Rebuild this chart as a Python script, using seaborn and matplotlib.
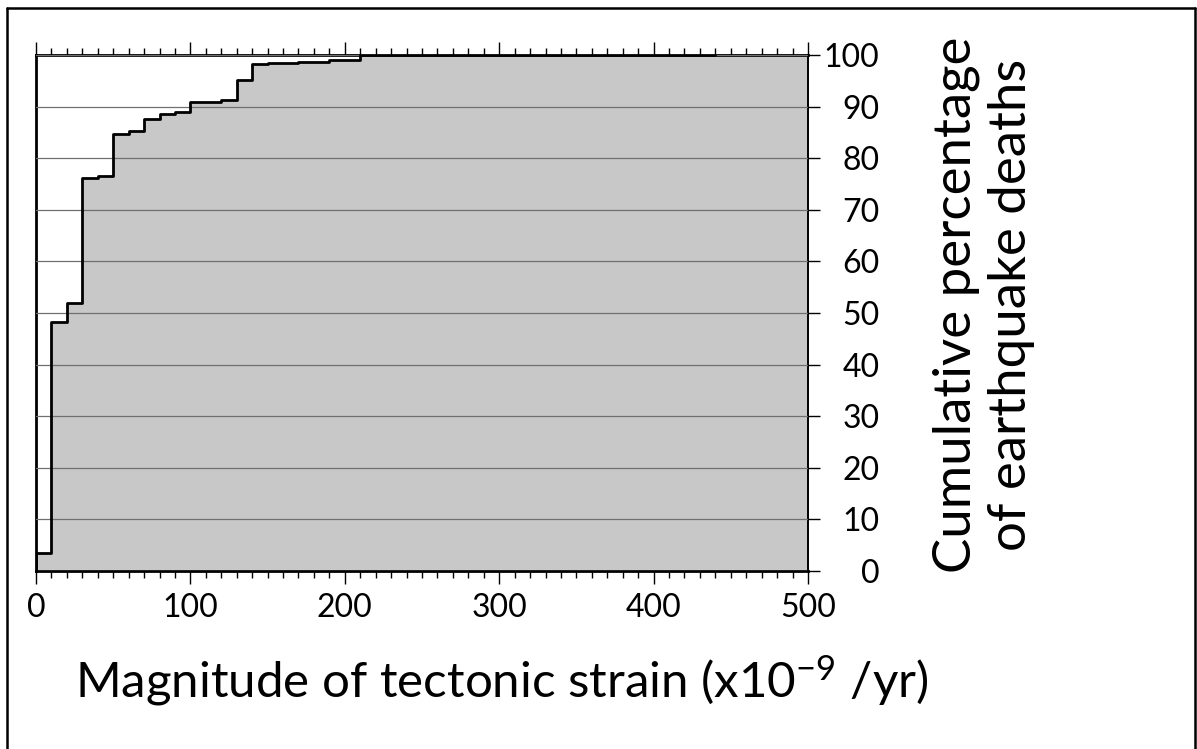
import matplotlib
matplotlib.use("Agg")
import matplotlib.pyplot as plt
from matplotlib.lines import Line2D
from matplotlib.ticker import MultipleLocator
import seaborn as sns
import pandas as pd

# ---- data ----
strain_edges = [0, 10, 20, 30, 40, 50, 60, 70, 80, 90, 100, 110, 120, 130,
                140, 150, 160, 170, 180, 190, 200, 210]
cum_pct = [3.5, 48.2, 51.9, 76.1, 76.6, 84.7, 85.3, 87.6, 88.5, 88.9, 90.8,
           90.8, 91.3, 95.2, 98.2, 98.4, 98.4, 98.7, 98.7, 99.0, 99.0, 100.0]
max_strain = 440
x_ticks = [0, 100, 200, 300, 400, 500]
y_ticks = [0, 10, 20, 30, 40, 50, 60, 70, 80, 90, 100]

sns.set_theme(style="white")
plt.rcParams["font.family"] = ["Lato", "DejaVu Sans"]
plt.rcParams["mathtext.fontset"] = "custom"
plt.rcParams["mathtext.rm"] = "Lato"
plt.rcParams["mathtext.it"] = "Lato:italic"
plt.rcParams["mathtext.bf"] = "Lato:bold"

fig = plt.figure(figsize=(11.97, 7.49), dpi=100)
ax = fig.add_axes([36/1197, 1-571/749, (808-36)/1197, (571-55)/749])

# fill under the step curve
fill_x = strain_edges + [x_ticks[-1]]
fill_y = cum_pct + [cum_pct[-1]]
ax.fill_between(fill_x, fill_y, step="post", color="#c8c8c8", lw=0, zorder=1)

# step outline
line_df = pd.DataFrame({"strain": [0] + strain_edges + [max_strain],
                        "pct": [0] + cum_pct + [cum_pct[-1]]})
sns.lineplot(data=line_df, x="strain", y="pct", estimator=None, sort=False,
             drawstyle="steps-post", color="black", lw=2.0, ax=ax, zorder=3)

ax.set_xlim(0, 500)
ax.set_ylim(0, 100)
ax.set_xticks(x_ticks)
ax.set_xticklabels([str(v) for v in x_ticks])
ax.xaxis.set_minor_locator(MultipleLocator(10))
ax.set_yticks(y_ticks)
ax.set_yticklabels([str(v) for v in y_ticks])

ax.yaxis.grid(True, color="#707070", lw=0.9, zorder=2)
ax.set_axisbelow(False)
ax.xaxis.grid(False)

ax.yaxis.tick_right()
ax.tick_params(axis="x", which="major", direction="out", length=9.5, width=1.0,
               color="black", labelcolor="black", top=True, bottom=True,
               labeltop=False, labelsize=23, pad=6)
ax.tick_params(axis="x", which="minor", direction="out", length=5, width=1.0,
               color="black", top=True, bottom=True)
ax.tick_params(axis="y", which="major", direction="out", length=8.5, width=1.0,
               color="black", labelcolor="black", left=False, right=True,
               labelleft=False, labelright=True, labelsize=23, pad=43)
for lab in ax.get_yticklabels():
    lab.set_horizontalalignment("right")

for side in ["left", "bottom", "top"]:
    ax.spines[side].set_linewidth(2.0)
    ax.spines[side].set_color("black")
ax.spines["right"].set_linewidth(1.4)
ax.spines["right"].set_color("black")

ax.set_xlabel("Magnitude of tectonic strain (x10$^{\\mathrm{-9}}$ /yr)",
              fontsize=35.5, color="black")
ax.xaxis.set_label_coords((502-36)/772, (571-680)/516)
ax.xaxis.label.set_verticalalignment("center")
ax.xaxis.label.set_horizontalalignment("center")

ax.set_ylabel("Cumulative percentage\nof earthquake deaths", fontsize=38,
              color="black", linespacing=1.2)
ax.yaxis.set_label_position("right")
ax.yaxis.set_label_coords((984-36)/772, (571-305)/516)
ylab = ax.yaxis.label
ylab.set_rotation(90)
ylab.set_rotation_mode("default")
ylab.set_horizontalalignment("center")
ylab.set_verticalalignment("center")
ylab.set_multialignment("center")

# outer frame
lw_frame = 1.8
fig.add_artist(Line2D([7/1197, 7/1197], [0, 1-8/749], color="black", lw=lw_frame,
                      transform=fig.transFigure))
fig.add_artist(Line2D([7/1197, 1195/1197], [1-8/749, 1-8/749], color="black",
                      lw=lw_frame, transform=fig.transFigure))
fig.add_artist(Line2D([1195/1197, 1195/1197], [0, 1-8/749], color="black",
                      lw=lw_frame, transform=fig.transFigure))

fig.savefig("out.png", dpi=100, facecolor="white")
